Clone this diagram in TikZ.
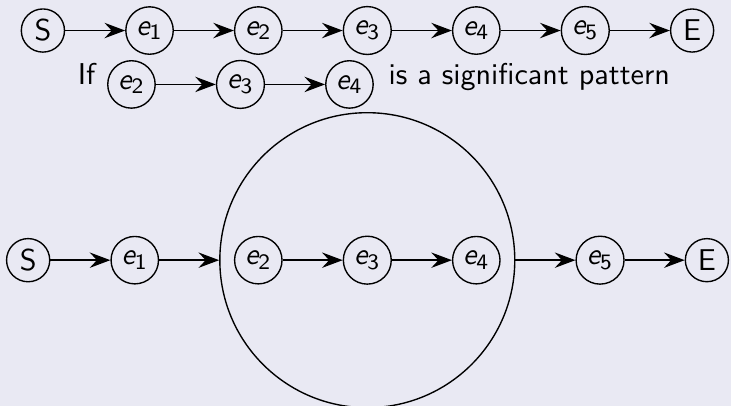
\documentclass[tikz,border=0pt,11pt]{standalone}
\usepackage{amsmath,amssymb}
\usepackage{xcolor}
\usepackage{tikz}
\usetikzlibrary{arrows.meta,positioning,fit}

\definecolor{slidebg}{RGB}{233,233,243}
\newcommand{\ev}[1]{\ensuremath{\textit{e}_{\textsf{#1}}}}

\begin{document}
\begin{tikzpicture}[line width=0.5pt,font=\sffamily,node distance=21.8pt,
    evt/.style={circle,draw,inner sep=2pt},
    flow/.style={-{Stealth[length=7.5pt,width=5.6pt,inset=2.6pt]}}]
  \fill[slidebg] (-15.6pt,11.1pt) rectangle (250.2pt,-136.5pt);
  \useasboundingbox (-15.6pt,11.1pt) rectangle (250.2pt,-136.5pt);
  % the whole sequence
  \node[evt] (ts) at (0,0) {S};
  \node[evt,right=of ts] (t1) {\ev{1}};
  \node[evt,right=of t1] (t2) {\ev{2}};
  \node[evt,right=of t2] (t3) {\ev{3}};
  \node[evt,right=of t3] (t4) {\ev{4}};
  \node[evt,right=of t4] (t5) {\ev{5}};
  \node[evt,right=of t5] (te) {E};
  \draw[flow] (ts) -- (t1);
  \draw[flow] (t1) -- (t2);
  \draw[flow] (t2) -- (t3);
  \draw[flow] (t3) -- (t4);
  \draw[flow] (t4) -- (t5);
  \draw[flow] (t5) -- (te);
  % the pattern
  \node[evt] (p2) at (32.2pt,-19.6pt) {\ev{2}};
  \node[evt,right=of p2] (p3) {\ev{3}};
  \node[evt,right=of p3] (p4) {\ev{4}};
  \draw[flow] (p2) -- (p3);
  \draw[flow] (p3) -- (p4);
  \node[anchor=base east,inner sep=0.5pt,xshift=-3.5pt] (iftxt) at (p2.west) {If};
  \node[anchor=base west,inner sep=0.5pt,xshift=4.6pt] (sigtxt) at (p4.east) {is a significant pattern};
  % the sequence with the pattern grouped
  \node[evt] (b3) at ([yshift=-83.5pt]t3) {\ev{3}};
  \node[evt,left=of b3] (b2) {\ev{2}};
  \node[evt,right=of b3] (b4) {\ev{4}};
  \node[circle,draw,fit=(b2)(b4)] (grp) {};
  \node[evt,left=of grp] (b1) {\ev{1}};
  \node[evt,left=of b1] (bs) {S};
  \node[evt,right=of grp] (b5) {\ev{5}};
  \node[evt,right=of b5] (be) {E};
  \draw[flow] (bs) -- (b1);
  \draw[flow] (b1) -- (grp);
  \draw[flow] (b2) -- (b3);
  \draw[flow] (b3) -- (b4);
  \draw[flow] (grp) -- (b5);
  \draw[flow] (b5) -- (be);
\end{tikzpicture}
\end{document}
